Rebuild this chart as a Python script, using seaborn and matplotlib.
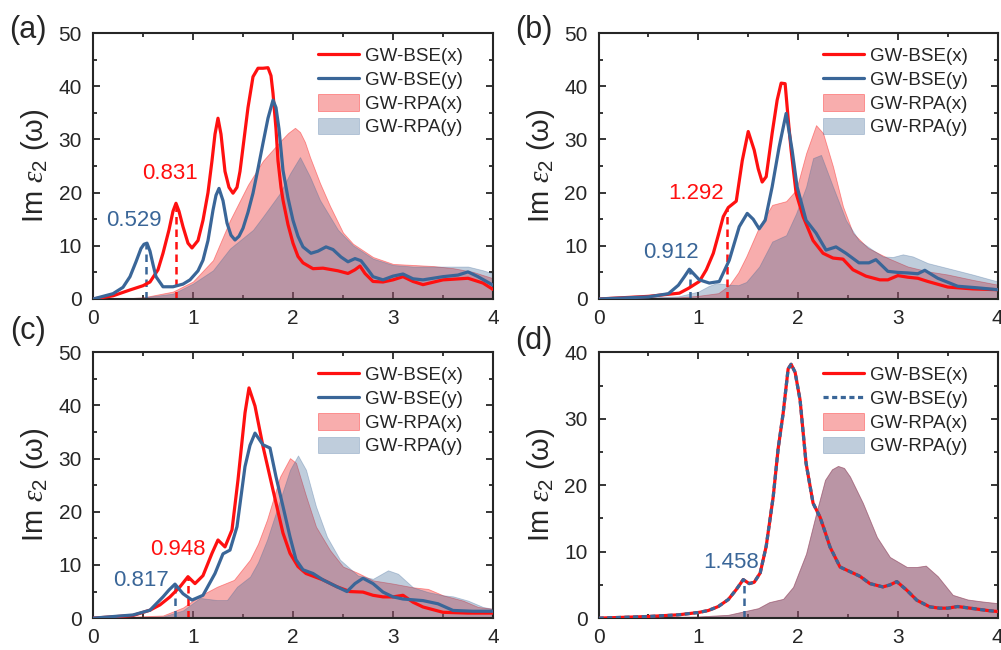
import numpy as np
import pandas as pd
import seaborn as sns
import matplotlib.pyplot as plt
from matplotlib.ticker import MultipleLocator

# ---- panel (a) ----
a_bse_x_e = [0, 0.2, 0.37, 0.5, 0.57, 0.65, 0.7, 0.76, 0.8, 0.83, 0.86, 0.9, 0.95, 0.99, 1.05, 1.1, 1.15,
             1.19, 1.22, 1.25, 1.28, 1.32, 1.36, 1.4, 1.44, 1.47, 1.51, 1.55, 1.6, 1.65, 1.7, 1.75, 1.78,
             1.8, 1.83, 1.85, 1.88, 1.9, 1.95, 2.0, 2.05, 2.1, 2.2, 2.3, 2.45, 2.55, 2.62, 2.67, 2.72,
             2.8, 2.9, 3.0, 3.1, 3.2, 3.3, 3.5, 3.75, 3.9, 4.0]
a_bse_x = [0, 0.6, 1.7, 2.5, 3.2, 5.5, 8.6, 13, 16.5, 18, 16.5, 13.6, 10.5, 9.6, 11, 14.8, 20,
           26, 31, 34, 31, 24, 21, 19.9, 21, 24, 30, 36, 41.8, 43.4, 43.4, 43.5, 42,
           38.7, 32, 26, 21, 18.6, 14, 10.5, 8, 6.8, 5.7, 5.8, 5.3, 4.8, 5.5, 6.2, 4.8,
           3.3, 3.2, 3.6, 4.2, 3.3, 2.7, 3.6, 3.9, 3.0, 1.8]
a_bse_y_e = [0, 0.2, 0.3, 0.37, 0.43, 0.48, 0.51, 0.54, 0.57, 0.6, 0.63, 0.7, 0.8, 0.9, 0.97, 1.05, 1.1,
             1.15, 1.2, 1.23, 1.26, 1.3, 1.34, 1.38, 1.42, 1.46, 1.5, 1.55, 1.6, 1.65, 1.7, 1.75, 1.8,
             1.83, 1.86, 1.9, 1.95, 2.0, 2.05, 2.1, 2.18, 2.25, 2.33, 2.4, 2.48, 2.55, 2.62, 2.68,
             2.75, 2.8, 2.9, 3.0, 3.1, 3.2, 3.3, 3.5, 3.65, 3.75, 3.85, 4.0]
a_bse_y = [0, 1, 2.2, 4.2, 7, 9.5, 10.3, 10.5, 9, 6.5, 4.2, 2.3, 2.3, 2.8, 3.6, 5.3, 7.3,
           11, 16.7, 19.5, 20.8, 18.5, 14.3, 12, 11.1, 11.8, 13.3, 16.3, 19.9, 24.5, 29.3, 34, 37.4,
           36, 32, 24.2, 19, 14.8, 11.8, 9.8, 8.6, 9.0, 9.8, 9.3, 7.9, 7, 7.6, 7.2,
           5.5, 4.2, 3.6, 4.3, 4.7, 3.8, 3.6, 4.2, 4.5, 5.1, 4.2, 2.6]
a_rpa_x_e = [0, 0.3, 0.5, 0.8, 1.0, 1.2, 1.37, 1.55, 1.7, 1.87, 1.95, 2.02, 2.07, 2.12, 2.17, 2.27, 2.37,
             2.5, 2.6, 2.8, 3.0, 3.2, 3.4, 3.6, 3.8, 4.0]
a_rpa_x = [0, 0.1, 0.3, 1.4, 3.3, 7.3, 14.8, 21.5, 26, 29.6, 31.2, 32.2, 31.4, 29.5, 26.7, 21.8, 17.5,
           12.5, 10.4, 7.9, 6.6, 6.4, 6.2, 5.8, 5.1, 3.9]
a_rpa_y_e = [0, 0.3, 0.5, 0.8, 1.0, 1.2, 1.37, 1.6, 1.7, 1.87, 1.97, 2.07, 2.17, 2.27, 2.45, 2.6, 2.8,
             3.0, 3.2, 3.5, 3.75, 3.9, 4.0]
a_rpa_y = [0, 0.1, 0.3, 1.0, 2.9, 5.4, 9.5, 13, 15.5, 19.9, 23.6, 26.7, 23, 18.6, 13, 10.1, 7.6,
           6.4, 6.1, 6.1, 6.1, 5.4, 4.8]
a_gap_x = [0.831, 18.0]   # energy, peak height
a_gap_y = [0.529, 10.4]

# ---- panel (b) ----
b_bse_x_e = [0, 0.5, 0.81, 0.9, 1.01, 1.08, 1.15, 1.2, 1.25, 1.3, 1.38, 1.44, 1.5, 1.56, 1.6, 1.64, 1.68,
             1.74, 1.79, 1.83, 1.87, 1.9, 1.93, 1.98, 2.05, 2.15, 2.25, 2.35, 2.45, 2.55, 2.68, 2.82,
             2.9, 3.0, 3.1, 3.2, 3.3, 3.5, 3.75, 4.0]
b_bse_x = [0, 0.5, 1.1, 2.0, 3.3, 5.5, 8.6, 12, 15.5, 17.2, 18.4, 26, 31.5, 28, 24.5, 22, 23,
           31.2, 37.4, 40.6, 40.5, 34, 28, 19.9, 15.5, 11, 8.6, 7.7, 7.5, 5.5, 4.3, 3.6,
           3.6, 4.4, 4.1, 3.9, 3.3, 2.25, 1.9, 1.75]
b_bse_y_e = [0, 0.5, 0.7, 0.8, 0.86, 0.91, 0.96, 1.01, 1.11, 1.21, 1.31, 1.41, 1.49, 1.55, 1.61, 1.67,
             1.74, 1.81, 1.88, 1.94, 1.99, 2.08, 2.18, 2.28, 2.38, 2.48, 2.61, 2.71, 2.78, 2.9, 3.0,
             3.1, 3.2, 3.27, 3.4, 3.6, 3.8, 4.0]
b_bse_y = [0, 0.4, 1.0, 2.6, 4.2, 5.6, 4.6, 3.6, 3.0, 3.3, 7.3, 13.6, 16.1, 15, 13.2, 14.8,
           21.1, 28.6, 34.9, 28, 21.1, 14.8, 12.4, 9.2, 9.8, 8.6, 6.8, 6.8, 7.4, 5.2, 5.0,
           4.9, 4.75, 5.4, 3.9, 2.4, 2.1, 1.75]
b_rpa_x_e = [0, 0.8, 1.0, 1.2, 1.31, 1.4, 1.48, 1.61, 1.74, 1.88, 1.98, 2.08, 2.18, 2.25, 2.35, 2.45,
             2.55, 2.7, 2.9, 3.1, 3.3, 3.5, 3.75, 4.0]
b_rpa_x = [0, 0.3, 0.6, 1.1, 2.6, 5.0, 8.0, 13.6, 17.7, 18.4, 20.5, 27.4, 32.7, 31.2, 24.9, 17.4,
           12.4, 9.6, 7.7, 6.1, 5.2, 4.6, 3.6, 2.7]
b_rpa_y_e = [0, 0.8, 1.0, 1.1, 1.18, 1.3, 1.4, 1.48, 1.61, 1.74, 1.88, 1.98, 2.08, 2.15, 2.23, 2.35,
             2.48, 2.61, 2.75, 2.85, 2.95, 3.05, 3.15, 3.3, 3.5, 3.75, 4.0]
b_rpa_y = [0, 0.5, 1.4, 2.4, 3.0, 2.7, 2.6, 3.2, 6.1, 10.8, 12, 16.1, 21.1, 26.5, 27.1, 21.1,
           14.8, 11, 9.2, 8.0, 7.9, 8.4, 8.0, 6.75, 5.8, 4.6, 3.3]
b_gap_x = [1.292, 17.0]
b_gap_y = [0.912, 5.6]

# ---- panel (c) ----
c_bse_x_e = [0, 0.4, 0.57, 0.67, 0.77, 0.87, 0.95, 1.02, 1.1, 1.19, 1.25, 1.32, 1.39, 1.45, 1.52, 1.56,
             1.62, 1.7, 1.8, 1.9, 1.97, 2.05, 2.13, 2.3, 2.44, 2.57, 2.7, 2.8, 2.9, 3.0, 3.1, 3.2,
             3.3, 3.5, 3.75, 4.0]
c_bse_x = [0, 0.5, 1.5, 2.5, 4.0, 5.9, 7.8, 6.5, 8.0, 12.2, 14.7, 13.4, 16.6, 26, 38.6, 43.3,
           39.9, 32.3, 24.1, 16, 12.2, 9.7, 8.4, 7.2, 5.9, 5.0, 4.9, 4.3, 4.0, 4.0, 4.3, 3.0,
           2.1, 1.1, 0.95, 0.95]
c_bse_y_e = [0, 0.4, 0.57, 0.7, 0.76, 0.82, 0.9, 0.99, 1.1, 1.22, 1.3, 1.37, 1.44, 1.52, 1.57, 1.62,
             1.7, 1.77, 1.83, 1.9, 1.97, 2.03, 2.1, 2.2, 2.3, 2.44, 2.54, 2.62, 2.7, 2.8, 2.9, 3.0,
             3.1, 3.3, 3.45, 3.6, 3.8, 4.0]
c_bse_y = [0, 0.6, 1.5, 4.0, 5.3, 6.4, 4.6, 3.4, 4.3, 8.4, 12.1, 12.8, 17.2, 28.5, 32.5, 34.8,
           32.6, 32, 26.6, 21, 15.3, 11, 9.1, 8.4, 7.2, 5.9, 5.0, 6.5, 7.5, 6.5, 4.9, 4.0,
           3.6, 3.3, 2.7, 1.45, 1.3, 1.3]
c_rpa_x_e = [0, 0.7, 0.9, 1.07, 1.24, 1.41, 1.57, 1.65, 1.74, 1.87, 1.97, 2.03, 2.13, 2.23, 2.37, 2.5,
             2.65, 2.8, 3.0, 3.2, 3.35, 3.5, 3.7, 3.85, 4.0]
c_rpa_x = [0, 0.5, 2.0, 4.2, 5.9, 7.2, 11, 14, 18.5, 26.6, 30.1, 29.2, 23, 17.2, 12.8, 9.7,
           8.5, 7.1, 6.5, 5.8, 5.5, 4.3, 3.3, 2.1, 1.75]
c_rpa_y_e = [0, 0.7, 0.9, 1.07, 1.24, 1.34, 1.44, 1.57, 1.65, 1.74, 1.87, 1.97, 2.05, 2.13, 2.23, 2.34,
             2.47, 2.65, 2.8, 2.95, 3.05, 3.2, 3.35, 3.5, 3.6, 3.75, 3.9, 4.0]
c_rpa_y = [0, 0.3, 1.45, 3.8, 3.4, 3.4, 5.9, 7.8, 10.5, 14.7, 22.2, 27.9, 30.6, 27.9, 21, 15.3,
           11, 8, 7.4, 9.0, 8.35, 5.8, 4.9, 4.3, 4.1, 3.3, 2.1, 1.75]
c_gap_x = [0.948, 7.7]
c_gap_y = [0.817, 6.2]

# ---- panel (d) ----
d_bse_e = [0, 0.5, 0.8, 1.0, 1.1, 1.2, 1.3, 1.38, 1.45, 1.51, 1.56, 1.62, 1.68, 1.75, 1.8, 1.85, 1.9,
           1.93, 1.97, 2.02, 2.08, 2.15, 2.22, 2.27, 2.32, 2.42, 2.52, 2.62, 2.72, 2.85, 2.92, 2.99,
           3.09, 3.19, 3.32, 3.42, 3.5, 3.6, 3.75, 3.9, 4.0]
d_bse = [0, 0.25, 0.5, 0.85, 1.15, 1.75, 2.8, 4.3, 5.8, 5.2, 5.4, 6.8, 10.8, 18.2, 25.5, 30.8, 37.5,
         38.2, 37, 32.8, 23.3, 17.3, 15.2, 13, 10.7, 7.7, 7.0, 6.3, 5.2, 4.7, 5.0, 5.5,
         4.2, 2.7, 1.7, 1.5, 1.5, 1.75, 1.45, 1.15, 1.0]
d_rpa_e = [0, 1.0, 1.3, 1.51, 1.6, 1.71, 1.85, 1.95, 2.08, 2.18, 2.27, 2.34, 2.4, 2.46, 2.52, 2.65,
           2.79, 2.92, 3.09, 3.19, 3.28, 3.4, 3.55, 3.7, 3.85, 4.0]
d_rpa = [0, 0.25, 0.5, 1.2, 1.5, 2.4, 2.9, 4.7, 9.7, 15.7, 20.8, 22.4, 22.9, 22.6, 21.3, 17.3,
         12.2, 9.2, 7.7, 7.7, 7.9, 6.3, 3.5, 2.8, 2.5, 2.25]
d_gap_y = [1.458, 5.8]

RED = '#ff1010'
BLUE = '#3a6698'
RED_FILL = '#f03c3c'
BLUE_FILL = '#3a6595'

sns.set_style('ticks')
plt.rcParams['font.family'] = ['Liberation Sans', 'DejaVu Sans']
plt.rcParams['mathtext.fontset'] = 'custom'
plt.rcParams['mathtext.it'] = 'Liberation Serif:italic'
plt.rcParams['mathtext.rm'] = 'Liberation Sans'

fig = plt.figure(figsize=(10.01, 6.5), dpi=100)
ax_a = fig.add_axes([0.0929, 0.540, 0.3996, 0.409])
ax_b = fig.add_axes([0.598, 0.540, 0.3986, 0.409])
ax_c = fig.add_axes([0.0929, 0.049, 0.3996, 0.409])
ax_d = fig.add_axes([0.598, 0.049, 0.3986, 0.409])


def draw_panel(ax, bx_e, bx, by_e, by, rx_e, rx, ry_e, ry, ymax, dashed_y=False):
    ax.fill_between(rx_e, rx, 0, facecolor=RED_FILL, alpha=0.42, edgecolor=RED, lw=0.6,
                    label='GW-RPA(x)', zorder=1)
    ax.fill_between(ry_e, ry, 0, facecolor=BLUE_FILL, alpha=0.32, edgecolor=BLUE, lw=0.6,
                    label='GW-RPA(y)', zorder=1.1)
    sns.lineplot(x=bx_e, y=bx, ax=ax, color=RED, lw=2.3, label='GW-BSE(x)', zorder=3)
    if dashed_y:
        sns.lineplot(x=by_e, y=by, ax=ax, color=BLUE, lw=2.3, linestyle=(0, (1.6, 1.1)),
                     label='GW-BSE(y)', zorder=3.1)
    else:
        sns.lineplot(x=by_e, y=by, ax=ax, color=BLUE, lw=2.3, label='GW-BSE(y)', zorder=3.1)

    ax.set_xlim(0, 4)
    ax.set_ylim(0, ymax)
    ax.xaxis.set_major_locator(MultipleLocator(1))
    ax.xaxis.set_minor_locator(MultipleLocator(0.5))
    ax.yaxis.set_major_locator(MultipleLocator(10))
    ax.yaxis.set_minor_locator(MultipleLocator(5))
    ax.tick_params(which='both', direction='in', top=True, right=True, width=1.3, labelsize=15)
    ax.tick_params(which='major', length=5)
    ax.tick_params(which='minor', length=3)
    ax.tick_params(axis='y', pad=8)
    ax.tick_params(axis='x', pad=7)
    for sp in ax.spines.values():
        sp.set_linewidth(1.5)
    ax.set_xlabel('')
    ax.set_ylabel('Im $\\varepsilon_{\\mathrm{2}}$ (ω)', fontsize=21)
    ax.yaxis.set_label_coords(-0.105, 0.5)

    handles, labels = ax.get_legend_handles_labels()
    lookup = dict(zip(labels, handles))
    order = ['GW-BSE(x)', 'GW-BSE(y)', 'GW-RPA(x)', 'GW-RPA(y)']
    ax.legend([lookup[k] for k in order], order, loc='upper right', bbox_to_anchor=(0.925, 0.95),
              frameon=False, fontsize=13.5, borderpad=0, borderaxespad=0, handlelength=2.2,
              handleheight=1.0, handletextpad=0.3, labelspacing=0.26)


draw_panel(ax_a, a_bse_x_e, a_bse_x, a_bse_y_e, a_bse_y, a_rpa_x_e, a_rpa_x, a_rpa_y_e, a_rpa_y, 50)
draw_panel(ax_b, b_bse_x_e, b_bse_x, b_bse_y_e, b_bse_y, b_rpa_x_e, b_rpa_x, b_rpa_y_e, b_rpa_y, 50)
draw_panel(ax_c, c_bse_x_e, c_bse_x, c_bse_y_e, c_bse_y, c_rpa_x_e, c_rpa_x, c_rpa_y_e, c_rpa_y, 50)
draw_panel(ax_d, d_bse_e, d_bse, d_bse_e, d_bse, d_rpa_e, d_rpa, d_rpa_e, d_rpa, 40, dashed_y=True)

# gap markers and labels
dash = (0, (3, 2))
for ax, gap, color, dx, dy in [(ax_a, a_gap_x, RED, -0.06, 5.6), (ax_a, a_gap_y, BLUE, -0.12, 4.4),
                               (ax_b, b_gap_x, RED, -0.31, 2.9), (ax_b, b_gap_y, BLUE, -0.19, 3.2),
                               (ax_c, c_gap_x, RED, -0.1, 5.2), (ax_c, c_gap_y, BLUE, -0.34, 0.8),
                               (ax_d, d_gap_y, BLUE, -0.13, 2.6)]:
    ax.vlines(gap[0], 0, gap[1], colors=color, lw=1.8, linestyles=dash, zorder=2.5)
    ax.text(gap[0] + dx, gap[1] + dy, f'{gap[0]:.3f}', color=color, fontsize=16,
            ha='center', va='center')

for lab, x, y in [('(a)', 0.028, 0.954), ('(b)', 0.533, 0.954), ('(c)', 0.028, 0.491),
                  ('(d)', 0.533, 0.476)]:
    fig.text(x, y, lab, fontsize=22, ha='center', va='center')

fig.savefig('out.png', dpi=100)
